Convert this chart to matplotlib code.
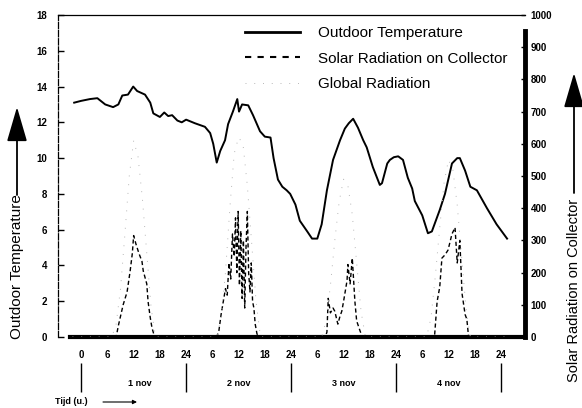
import matplotlib
matplotlib.use('Agg')
import matplotlib.pyplot as plt
import matplotlib.transforms as mtransforms
from matplotlib.lines import Line2D

plt.rcParams['font.family'] = ['Liberation Sans', 'DejaVu Sans']

# outdoor temperature (deg C) against time (hours from 1 nov 0:00)
temp_h = [-1.6, 0, 2, 3.7, 5.5, 7.3, 8.5, 9.4, 10.7, 11.9, 12.8, 14.6, 15.8, 16.5, 18, 19,
          19.9, 20.8, 22, 23, 24, 26, 28.3, 29.5, 30.2, 31, 31.8, 32.9, 33.6, 34.7, 35.7,
          36.1, 36.8, 38.2, 39.3, 40.9, 42, 43.3, 44, 45, 46, 47, 47.8, 49, 50, 51.7, 52.8,
          54, 55, 56.2, 57.6, 59.2, 60.3, 61.2, 62.2, 63.3, 64.5, 65.3, 66.7, 68.3, 68.8,
          70, 70.6, 71.5, 72.5, 73.6, 74.7, 75.7, 76.3, 78, 79.3, 80.2, 82, 83.2, 84.8, 86,
          86.6, 87.8, 89, 90.5, 92.8, 95, 97.4]
temp_c = [13.1, 13.2, 13.3, 13.35, 13.0, 12.85, 13.0, 13.5, 13.55, 14.0, 13.75, 13.55, 13.1,
          12.5, 12.3, 12.55, 12.35, 12.4, 12.1, 12.0, 12.15, 11.95, 11.75, 11.4, 10.8, 9.75,
          10.4, 11.0, 11.9, 12.6, 13.3, 12.6, 13.0, 12.95, 12.4, 11.5, 11.2, 11.15, 10.0, 8.8,
          8.4, 8.2, 8.0, 7.4, 6.5, 5.9, 5.5, 5.5, 6.3, 8.2, 9.9, 11.0, 11.65, 11.95, 12.2,
          11.7, 11.0, 10.6, 9.5, 8.5, 8.6, 9.7, 9.9, 10.05, 10.1, 9.9, 8.9, 8.3, 7.6, 6.8,
          5.8, 5.9, 7.1, 8.0, 9.7, 10.0, 10.0, 9.3, 8.4, 8.2, 7.2, 6.3, 5.5]

# solar radiation on collector (W/m2)
coll_h = [-2, 8, 8.5, 9.6, 10.5, 11.2, 11.7, 12.0, 12.5, 13.2, 13.9, 14.2, 15.0, 15.3, 15.8,
          16.2, 16.8,
          31.0, 31.5, 32.0, 32.5, 33.0, 33.4, 33.8, 34.2, 34.6, 35.0, 35.3, 35.6, 35.9, 36.2,
          36.5, 36.8, 37.1, 37.4, 37.7, 38.0, 38.3, 38.6, 38.9, 39.2, 39.5, 39.8, 40.2, 40.6,
          55.8, 56.2, 56.5, 57.0, 57.6, 58.0, 58.7, 59.2, 59.6, 60.0, 60.8, 61.0, 61.5, 62.0,
          62.6, 63.0, 63.8, 64.3,
          80.8, 81.4, 82.0, 82.5, 83.2, 83.9, 84.8, 85.5, 86.0, 86.6, 87.1, 87.8, 88.2, 88.6,
          98]
coll_v = [0, 0, 35, 100, 140, 205, 260, 315, 290, 260, 235, 205, 165, 110, 60, 28, 0,
          0, 20, 70, 110, 150, 130, 230, 180, 320, 250, 370, 200, 390, 160, 330, 120, 300, 90,
          280, 390, 200, 140, 230, 110, 90, 40, 10, 0,
          0, 15, 120, 75, 90, 80, 40, 65, 80, 110, 175, 225, 165, 245, 110, 50, 18, 0,
          0, 110, 155, 245, 255, 270, 320, 340, 230, 300, 135, 70, 55, 0,
          0]

# global radiation (W/m2)
glob_h = [-2, 7, 8, 9, 10, 11, 12, 13, 14, 15, 16, 17,
          31, 32, 33, 34, 35, 36, 37, 38, 39, 40, 41,
          55, 56, 57, 58, 59, 60, 61, 62, 63, 64, 65,
          79, 80, 81, 82, 83, 84, 85, 86, 87, 88, 89, 98]
glob_v = [0, 0, 40, 150, 320, 500, 610, 560, 430, 260, 90, 0,
          0, 60, 200, 400, 570, 620, 600, 470, 290, 110, 0,
          0, 50, 160, 300, 420, 490, 470, 380, 230, 80, 0,
          0, 60, 190, 340, 480, 550, 520, 410, 250, 90, 0, 0]

x_ticks = [0, 6, 12, 18, 24, 30, 36, 42, 48, 54, 60, 66, 72, 78, 84, 90, 96]
x_labels = ['0', '6', '12', '18', '24', '6', '12', '18', '24', '6', '12', '18', '24',
            '6', '12', '18', '24']
day_edges = [0, 24, 48, 72, 96]
day_pos = [13.5, 36, 60, 84]
day_names = ['1 nov', '2 nov', '3 nov', '4 nov']

fig = plt.figure(figsize=(5.82, 4.08), dpi=100)
ax = fig.add_axes([58 / 582, 1 - 337 / 408, 467 / 582, 322 / 408])
ax2 = ax.twinx()

ax.plot(temp_h, temp_c, color='k', lw=1.4)
ax2.plot(coll_h, coll_v, color='k', lw=1.0, ls=(0, (3, 2)))
ax2.plot(glob_h, glob_v, color='0.72', lw=0.7, ls=(0, (1, 8)))

ax.set_xlim(-5.3, 101.5)
ax.set_ylim(0, 18)
ax2.set_ylim(0, 1000)

ax.set_xticks(x_ticks)
ax.set_xticklabels(x_labels)
ax.set_yticks(range(0, 19, 2))
ax2.set_yticks(range(0, 1001, 100))

for lab in ax.get_xticklabels() + ax.get_yticklabels() + ax2.get_yticklabels():
    lab.set_fontsize(7)
    lab.set_fontweight('bold')
ax.tick_params(axis='x', length=0, pad=9)
ax.tick_params(axis='y', direction='in', length=4, width=1, pad=8)
ax2.tick_params(axis='y', direction='in', length=3, width=1, pad=4)

# spines
ax.spines['right'].set_visible(False)
ax.spines['left'].set_linewidth(0.9)
ax.spines['left'].set_linestyle((0, (5, 1.5)))
ax.spines['top'].set_linewidth(0.9)
ax.spines['bottom'].set_linewidth(3)
ax.spines['bottom'].set_bounds(-2.5, 101.5)
for s in ['left', 'top', 'bottom']:
    ax2.spines[s].set_visible(False)
ax2.spines['right'].set_linewidth(3.5)
ax2.spines['right'].set_bounds(0, 950)

# legend
handles = [Line2D([], [], color='k', lw=2),
           Line2D([], [], color='k', lw=1.5, ls=(0, (3, 3))),
           Line2D([], [], color='0.72', lw=0.7, ls=(0, (1, 8)))]
labels = ['Outdoor Temperature', 'Solar Radiation on Collector', 'Global Radiation']
ax2.legend(handles, labels, loc='upper left', bbox_to_anchor=(0.40, 0.965), frameon=False,
           handlelength=3.6, handletextpad=1.2, labelspacing=0.75, fontsize=11,
           borderpad=0, borderaxespad=0)

# day separators and day names under the axis
trans = mtransforms.blended_transform_factory(ax.transData, ax.transAxes)
ax.vlines(day_edges, -0.171, -0.081, transform=trans, color='k', lw=1.0, clip_on=False)
for h, name in zip(day_pos, day_names):
    ax.text(h, -0.143, name, transform=trans, ha='center', va='center',
            fontsize=6.5, fontweight='bold')

fig.text(55 / 582, 1 - 402 / 408, 'Tijd (u.)', fontsize=6.5, fontweight='bold', va='center')
ax.annotate('', xy=(137 / 582, 1 - 402 / 408), xytext=(103 / 582, 1 - 402 / 408),
            xycoords='figure fraction', textcoords='figure fraction',
            arrowprops=dict(arrowstyle='-|>', lw=0.8, color='k', mutation_scale=6,
                            shrinkA=0, shrinkB=0))

# axis titles with arrows
fig.text(17 / 582, 1 - 267 / 408, 'Outdoor Temperature', rotation=90, ha='center',
         va='center', fontsize=11)
ax.annotate('', xy=(17 / 582, 1 - 107 / 408), xytext=(17 / 582, 1 - 195 / 408),
            xycoords='figure fraction', textcoords='figure fraction',
            arrowprops=dict(arrowstyle='-|>,head_length=1.2,head_width=0.35', lw=1.3,
                            color='k', mutation_scale=18, shrinkA=0, shrinkB=0))
fig.text(574 / 582, 1 - 290 / 408, 'Solar Radiation on Collector', rotation=90,
         ha='center', va='center', fontsize=10.5)
ax.annotate('', xy=(574 / 582, 1 - 73 / 408), xytext=(574 / 582, 1 - 193 / 408),
            xycoords='figure fraction', textcoords='figure fraction',
            arrowprops=dict(arrowstyle='-|>,head_length=1.2,head_width=0.35', lw=1.3,
                            color='k', mutation_scale=18, shrinkA=0, shrinkB=0))

fig.savefig('out.png', dpi=100)
